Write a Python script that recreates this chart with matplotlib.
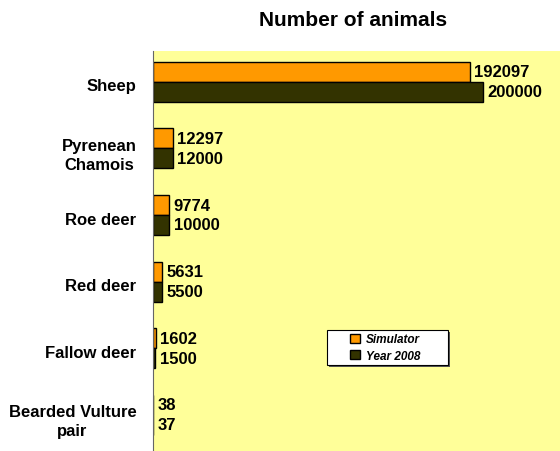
import matplotlib.pyplot as plt
import numpy as np
from matplotlib.patches import Rectangle
import matplotlib.transforms as mtransforms

plt.rcParams["font.family"] = ["Liberation Sans", "DejaVu Sans"]

categories = ["Sheep", "Pyrenean\nChamois", "Roe deer", "Red deer", "Fallow deer", "Bearded Vulture\npair"]
simulator = [192097, 12297, 9774, 5631, 1602, 38]
year_2008 = [200000, 12000, 10000, 5500, 1500, 37]

ORANGE = "#FF9900"
DARK = "#333300"
BG = "#FFFF99"

fig = plt.figure(figsize=(5.6, 4.52), dpi=100)
ax = fig.add_axes([153 / 560, 0, 407 / 560, 400 / 452])
ax.set_facecolor(BG)

y = np.arange(len(categories))
h = 0.3
off = 0.04
ax.barh(y - off - h / 2, simulator, height=h, color=ORANGE, edgecolor="black", linewidth=1, label="Simulator")
ax.barh(y - off + h / 2, year_2008, height=h, color=DARK, edgecolor="black", linewidth=1, label="Year 2008")

for i in range(len(categories)):
    ax.annotate(str(simulator[i]), (simulator[i], y[i] - off - h / 2), xytext=(3, 0),
                textcoords="offset points", va="center", ha="left", fontsize=12, fontweight="bold")
    ax.annotate(str(year_2008[i]), (year_2008[i], y[i] - off + h / 2), xytext=(3, 0),
                textcoords="offset points", va="center", ha="left", fontsize=12, fontweight="bold")

ax.set_xlim(0, 246700)
ax.set_ylim(len(categories) - 0.5, -0.5)
ax.set_yticks(y)
ax.set_yticklabels(categories, fontsize=12, fontweight="bold", multialignment="center", linespacing=1.35)
ax.tick_params(axis="y", length=0, pad=12)
ax.set_xticks([])
for s in ["top", "right", "bottom"]:
    ax.spines[s].set_visible(False)
ax.spines["left"].set_color("#666666")

fig.text(353 / 560, 1 - 20 / 452, "Number of animals", ha="center", va="center",
         fontsize=15, fontweight="bold")

# legend box drawn by hand so it can be wider than its content
bx, by, bw, bh = 0.4275, 0.215, 0.2973, 0.0875
shadow_tr = ax.transAxes + mtransforms.ScaledTranslation(2 / 100, -2 / 100, fig.dpi_scale_trans)
ax.add_patch(Rectangle((bx, by), bw, bh, transform=shadow_tr, facecolor="#555555",
                       edgecolor="none", zorder=4))
ax.add_patch(Rectangle((bx, by), bw, bh, transform=ax.transAxes, facecolor="white",
                       edgecolor="black", linewidth=0.8, zorder=5))
leg = ax.legend(loc="center", bbox_to_anchor=(bx + bw / 2 - 0.006, by + bh / 2), frameon=False,
                prop={"size": 8.5, "weight": "bold", "style": "italic"},
                handlelength=0.8, handleheight=0.8, handletextpad=0.5, labelspacing=0.4,
                borderpad=0.2)
leg.set_zorder(6)

fig.savefig("out.png", dpi=100)
